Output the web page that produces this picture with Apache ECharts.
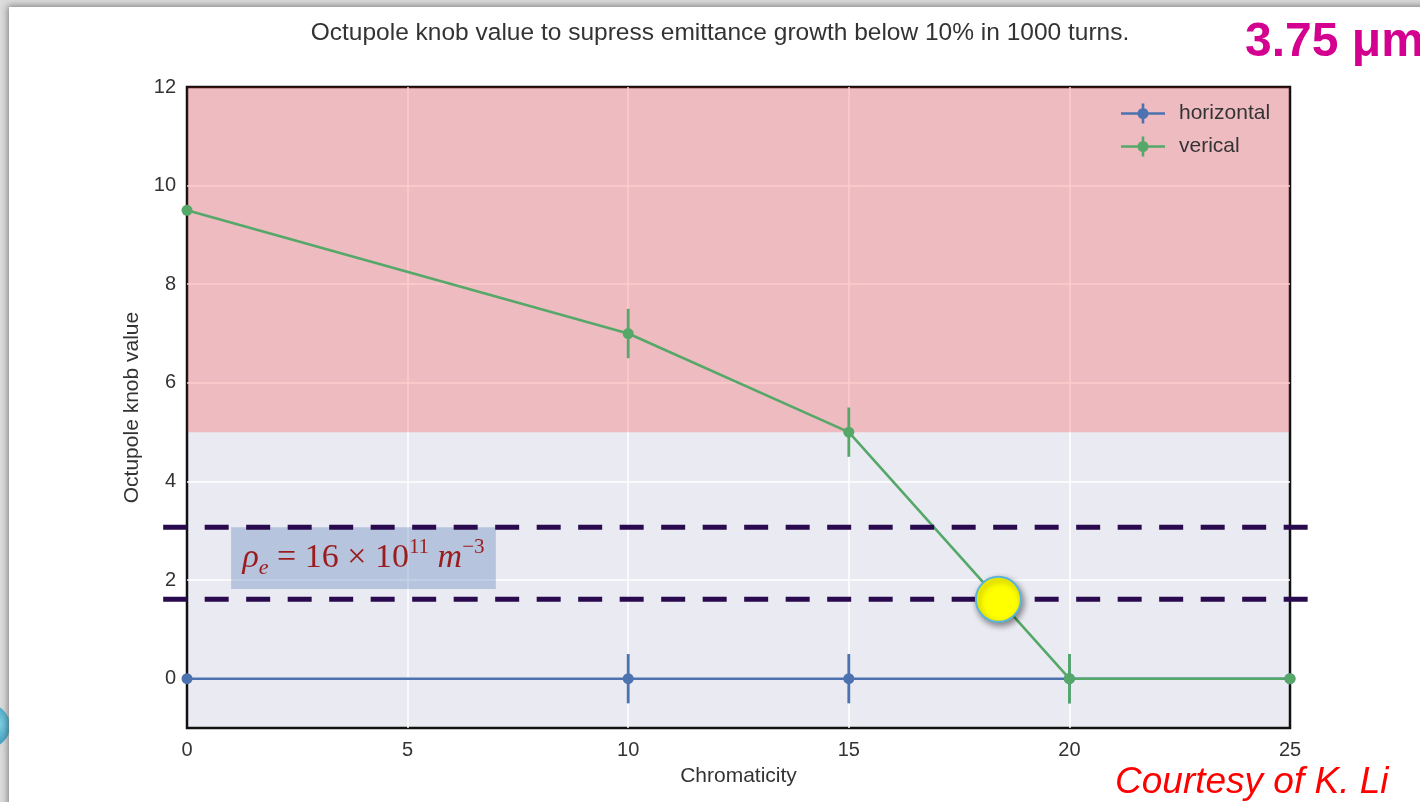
<!DOCTYPE html>
<html>
<head>
<meta charset="utf-8">
<script src="https://cdn.jsdelivr.net/npm/echarts@6/dist/echarts.min.js"></script>
<style>
  html, body { margin: 0; padding: 0; width: 1420px; height: 802px; overflow: hidden; background: #dcdcdc; }
  #orb { position: absolute; left: -34px; top: 704px; width: 44px; height: 44px; border-radius: 50%;
         background: radial-gradient(circle at 75% 45%, #7fd0e4, #2b8fb2 70%); }
  #slide { position: absolute; left: 9px; top: 7px; right: -20px; bottom: -20px; background: #fff;
           box-shadow: 0 0 7px 1px rgba(0,0,0,0.45); }
  #chart { position: absolute; left: 0; top: 0; width: 1420px; height: 802px; }
</style>
</head>
<body>
<div id="orb"></div>
<div id="slide"></div>
<div id="chart"></div>
<script>
// Chromaticity scan points and the octupole knob needed in each plane
const chromaticity   = [0, 10, 15, 20, 25];
const horizontalKnob = [0, 0, 0, 0, 0];
const horizontalErr  = [0, 0.5, 0.5, 0.5, 0];
const verticalKnob   = [9.5, 7, 5, 0, 0];
const verticalErr    = [0, 0.5, 0.5, 0.5, 0];

// Axis ranges and labelled ticks
const xRange = [0, 25];
const yRange = [-1, 12];
const yTickLabels = [0, 2, 4, 6, 8, 10, 12];

// Annotations
const unstableBand = [5, 12];             // knob range shaded red
const thresholdLevels = [3.07, 1.61];     // dashed reference levels
const dashSpan = [-0.54, 25.4];           // dashed lines run a little past the frame
const crossing = [18.39, 1.61];           // where the vertical curve meets the lower level
const densityBox = { x: [1, 7], y: [3.07, 1.82] };
const densityLabel = '{i|ρ}{sub|e}{n| = 16 × 10}{sup|11}{i| m}{sup|−3}';

const BLUE = '#4c72b0';
const GREEN = '#55a868';
const FONT = 'Liberation Sans, Arial, sans-serif';
const SERIF = 'Liberation Serif, DejaVu Serif, serif';

function errorBars(name, color, ys, errs) {
  const rows = [];
  chromaticity.forEach((x, i) => { if (errs[i] > 0) rows.push([x, ys[i] - errs[i], ys[i] + errs[i]]); });
  return {
    type: 'custom', name: name, silent: true,
    data: rows,
    encode: { x: 0, y: [1, 2] },
    renderItem: (params, api) => {
      const lo = api.coord([api.value(0), api.value(1)]);
      const hi = api.coord([api.value(0), api.value(2)]);
      return { type: 'line', shape: { x1: lo[0], y1: lo[1], x2: hi[0], y2: hi[1] },
               style: { stroke: color, lineWidth: 2.8 } };
    }
  };
}

// Dashed horizontal reference levels, drawn past both sides of the frame
const levelSeries = {
  type: 'custom', silent: true, clip: false, z: 4,
  data: thresholdLevels.map(y => [y]),
  encode: { y: 0 },
  renderItem: (params, api) => {
    const y = api.value(0);
    const a = api.coord([dashSpan[0], y]);
    const b = api.coord([dashSpan[1], y]);
    return { type: 'line', shape: { x1: a[0], y1: a[1], x2: b[0], y2: b[1] },
             style: { stroke: '#2a0a4e', lineWidth: 5, lineDash: [24, 17.5] } };
  },
  markArea: {
    silent: true,
    itemStyle: { color: 'rgba(76,114,176,0.32)' },
    label: {
      show: true, position: 'inside', formatter: densityLabel,
      rich: {
        i:   { fontFamily: SERIF, fontStyle: 'italic', fontSize: 34, color: '#9a1c1c', lineHeight: 42, verticalAlign: 'middle' },
        n:   { fontFamily: SERIF, fontSize: 34, color: '#9a1c1c', lineHeight: 42, verticalAlign: 'middle' },
        sup: { fontFamily: SERIF, fontSize: 21, color: '#9a1c1c', lineHeight: 26, verticalAlign: 'top' },
        sub: { fontFamily: SERIF, fontStyle: 'italic', fontSize: 22, color: '#9a1c1c', lineHeight: 22, verticalAlign: 'bottom' }
      }
    },
    data: [[{ xAxis: densityBox.x[0], yAxis: densityBox.y[0] }, { xAxis: densityBox.x[1], yAxis: densityBox.y[1] }]]
  }
};

const chart = echarts.init(document.getElementById('chart'), null, { renderer: 'canvas' });

chart.setOption({
  animation: false,
  backgroundColor: 'transparent',
  textStyle: { fontFamily: FONT },
  grid: {
    left: 187, right: 130, top: 87, bottom: 74,
    show: true, backgroundColor: '#eaeaf2', borderColor: '#111', borderWidth: 2.5
  },
  legend: {
    data: ['horizontal', 'verical'],
    orient: 'vertical', left: 1121, top: 103, padding: 0,
    itemWidth: 44, itemHeight: 20, itemGap: 12,
    icon: 'path://M0,8.7H44V11.3H0Z M20.7,0H23.3V20H20.7Z M27.5,10A5.5,5.5 0 1,1 16.5,10A5.5,5.5 0 1,1 27.5,10Z',
    textStyle: { fontSize: 21, color: '#333', fontFamily: FONT, padding: [0, 0, 0, 9] }
  },
  xAxis: {
    type: 'value', min: xRange[0], max: xRange[1], interval: 5,
    name: 'Chromaticity', nameLocation: 'middle', nameGap: 38,
    nameTextStyle: { fontSize: 21, color: '#333', fontFamily: FONT },
    axisLine: { show: false }, axisTick: { show: false },
    axisLabel: { fontSize: 20, color: '#333', margin: 12, fontFamily: FONT },
    splitLine: { show: true, showMinLine: false, showMaxLine: false, lineStyle: { color: '#fff', width: 1.5 } }
  },
  yAxis: {
    type: 'value', min: yRange[0], max: yRange[1], interval: 1,
    name: 'Octupole knob value', nameLocation: 'middle', nameGap: 42,
    nameTextStyle: { fontSize: 21, color: '#333', fontFamily: FONT },
    axisLine: { show: false }, axisTick: { show: false },
    axisLabel: { fontSize: 20, color: '#333', margin: 11, fontFamily: FONT,
                 formatter: v => yTickLabels.includes(v) ? String(v) : '' },
    splitLine: { show: true, showMinLine: true, showMaxLine: false,
                 lineStyle: { color: ['rgba(0,0,0,0)', '#fff'], width: 1.5 } }
  },
  series: [
    {
      type: 'line', name: 'horizontal', z: 2,
      data: chromaticity.map((x, i) => [x, horizontalKnob[i]]),
      symbol: 'circle', symbolSize: 11,
      lineStyle: { color: BLUE, width: 2.6 }, itemStyle: { color: BLUE },
      markArea: {
        silent: true,
        itemStyle: { color: 'rgba(255,0,0,0.2)' },
        data: [[{ xAxis: xRange[0], yAxis: unstableBand[0] }, { xAxis: xRange[1], yAxis: unstableBand[1] }]]
      }
    },
    errorBars('horizontal', BLUE, horizontalKnob, horizontalErr),
    {
      type: 'line', name: 'verical', z: 2,
      data: chromaticity.map((x, i) => [x, verticalKnob[i]]),
      symbol: 'circle', symbolSize: 11,
      lineStyle: { color: GREEN, width: 2.6 }, itemStyle: { color: GREEN }
    },
    errorBars('verical', GREEN, verticalKnob, verticalErr),
    levelSeries,
    {
      type: 'scatter', silent: true, z: 6,
      data: [crossing],
      symbol: 'circle', symbolSize: 45,
      itemStyle: { color: '#ffff00', opacity: 1, borderColor: '#5ab4dc', borderWidth: 2,
                   shadowBlur: 6, shadowOffsetX: 2, shadowOffsetY: 3, shadowColor: 'rgba(0,0,0,0.45)' }
    }
  ],
  graphic: [
    { type: 'text', x: 720, y: 33, silent: true,
      style: { text: 'Octupole knob value to supress emittance growth below 10% in 1000 turns.',
               fill: '#333', font: '24.5px ' + FONT, textAlign: 'center', textVerticalAlign: 'middle' } },
    { type: 'text', x: 1245, y: 43, silent: true,
      style: { text: '3.75 μm', fill: '#d4008f', font: 'bold 48px ' + FONT, textAlign: 'left', textVerticalAlign: 'middle' } },
    { type: 'text', x: 1115, y: 783, silent: true,
      style: { text: 'Courtesy of K. Li', fill: '#ff0000', font: 'italic 37px ' + FONT, textAlign: 'left', textVerticalAlign: 'middle' } }
  ]
});
</script>
</body>
</html>
